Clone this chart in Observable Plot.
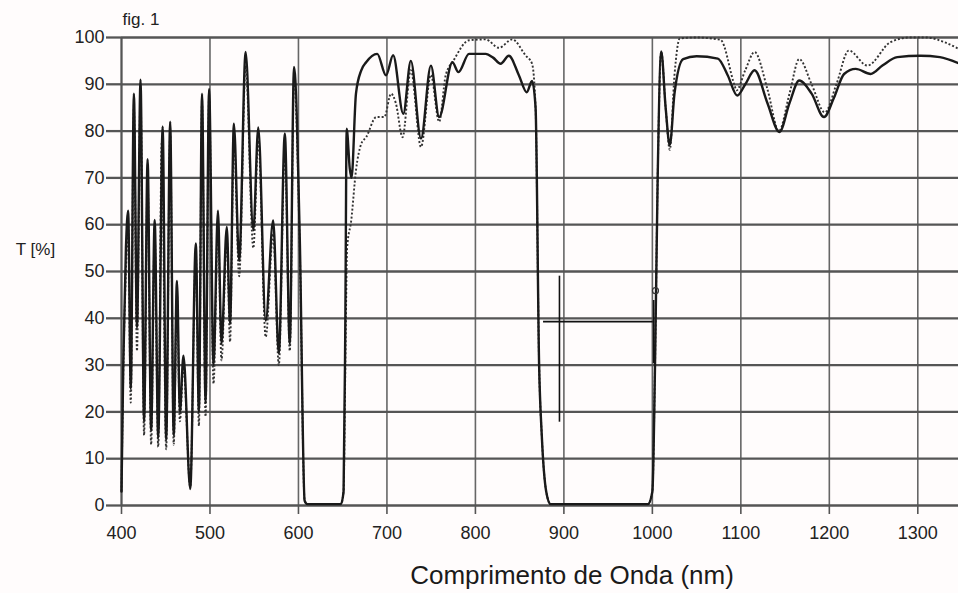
<!DOCTYPE html>
<html>
<head>
<meta charset="utf-8">
<script src="https://cdn.jsdelivr.net/npm/d3@7"></script>
<script src="https://cdn.jsdelivr.net/npm/@observablehq/plot@0.6"></script>
<style>
  html, body { margin: 0; padding: 0; background: #fffcfc; }
  #chart { width: 958px; height: 593px; }
</style>
</head>
<body>
<div id="chart"></div>
<script>
// ---- Data ----
const xTicks = [400, 500, 600, 700, 800, 900, 1000, 1100, 1200, 1300];
const yTicks = [0, 10, 20, 30, 40, 50, 60, 70, 80, 90, 100];

const titleText = "fig. 1";
const yLabelText = "T [%]";
const xLabelText = "Comprimento de Onda (nm)";

// solid curve
const solidNm = [400, 402, 405, 407.5, 410.5, 414, 417.5, 421.5, 425.5, 429.5, 433.5, 437.5, 441.5, 446.5, 450.5, 455, 459, 462.7, 466, 470, 477.7, 484, 487.5, 491, 495, 499, 504, 509, 513, 519, 522.7, 527, 533, 540.3, 549, 554.6, 563, 571.4, 577.8, 584.6, 590.2, 595, 601.5, 607, 610, 648, 651, 653, 654.5, 658, 660, 665, 671, 676.5, 689, 699, 707, 718.5, 727, 738.5, 749.7, 759, 774, 780.8, 792.8, 811.6, 820, 828.5, 837.8, 849, 858, 864, 868, 872, 875, 880, 885, 995, 1000, 1003, 1006, 1010, 1015, 1019.7, 1025, 1034.8, 1050, 1074, 1085, 1096, 1105, 1115.5, 1130, 1143.6, 1155, 1166, 1180, 1194, 1205, 1216.7, 1229.8, 1246.7, 1260, 1276.8, 1303, 1325, 1346];
const solidT  = [3, 30, 55, 63, 25, 88, 38, 91, 18, 74, 16, 61, 14.5, 81, 14, 82, 15, 48, 20, 32, 3.5, 56, 20, 88, 22, 89, 30, 63, 34.6, 59.5, 38.9, 81.6, 52.3, 96.9, 58.8, 80.8, 39.5, 60.9, 32.5, 79.5, 34.6, 93.7, 57, 1, 0.3, 0.3, 3, 40, 80.5, 72, 70, 88, 93, 94.7, 96.5, 91.9, 96.2, 83.7, 95, 78.4, 94, 83, 94.7, 92.6, 96.5, 96.5, 95.7, 94.4, 96.1, 92, 88.3, 90.7, 85, 30, 15, 3, 0.3, 0.3, 3, 30, 70, 97, 85, 77, 88, 95.4, 96, 95.5, 92, 87.6, 90, 93, 86, 79.8, 86, 90.8, 88, 83, 87, 92.2, 93.3, 92.2, 94, 95.8, 96.1, 95.8, 94.5];

// dotted curve
const dottedNm = [400, 402, 405, 407.5, 410.5, 414, 417.5, 421.5, 425.5, 429.5, 433.5, 437.5, 441.5, 445.5, 450.5, 455, 459, 462.7, 466, 470, 477.7, 484, 487.5, 491, 495, 499, 504, 509, 513, 519, 522.7, 527, 533, 540.3, 549, 554.6, 563, 571.4, 577.8, 584.6, 590.2, 595, 601.5, 607, 610, 648, 651, 653, 655, 659.7, 665, 671, 676.5, 688, 697, 704.7, 710, 717.7, 727, 738.5, 749.7, 759, 766.5, 775, 792.8, 811.6, 826.6, 841.6, 856.6, 864, 868, 872, 875, 880, 885, 995, 1000, 1003, 1006, 1010, 1015, 1019.7, 1025, 1031, 1050, 1077, 1093, 1095, 1105, 1115.5, 1130, 1143, 1155, 1166, 1180, 1195, 1208, 1222, 1243, 1269, 1291, 1310, 1330, 1346];
const dottedT  = [3, 28, 50, 60, 22, 85, 33, 88, 15, 70, 13, 58, 12.5, 77.6, 12, 79, 13, 45, 18, 30, 4, 54, 17, 86, 19, 87, 26, 60, 31, 57, 35, 79, 49, 94, 55, 78, 36, 58, 30, 76, 33, 91, 55, 1, 0.3, 0.3, 3, 30, 55, 61, 71.6, 77.3, 78.7, 83, 83, 88, 86, 78.7, 93, 76.6, 92, 82, 92, 95, 99.4, 99.6, 97.8, 99.6, 96.2, 94.4, 85, 30, 15, 3, 0.3, 0.3, 3, 30, 70, 97, 85, 76, 92, 99.8, 100, 99.5, 89.7, 88.7, 93, 96.9, 89, 80, 88, 95.4, 90, 84, 90, 97.2, 94, 99, 100, 100, 99, 97.6];

// crosshair marks printed on the scan
const crossH = [{x1: 877, x2: 1001, y: 39.3}];
const crossV = [{x: 895, y1: 17.8, y2: 49}, {x: 1001.5, y1: 30.3, y2: 43.8}];
const crossDot = [{x: 1003.5, y: 45.9}];

const solid = solidNm.map((x, i) => ({x, y: solidT[i]}));
const dotted = dottedNm.map((x, i) => ({x, y: dottedT[i]}));

const chart = Plot.plot({
  width: 958,
  height: 593,
  marginLeft: 121,
  marginRight: 0,
  marginTop: 37,
  marginBottom: 88,
  style: {fontFamily: "'Liberation Sans', Arial, sans-serif", fontSize: "18px", color: "#222", background: "#fffcfc", overflow: "visible"},
  x: {domain: [400, 1346], label: null},
  y: {domain: [0, 100], label: null},
  marks: [
    Plot.gridX(xTicks, {stroke: "#666", strokeOpacity: 1, strokeWidth: 1.6}),
    Plot.gridY(yTicks, {stroke: "#555", strokeOpacity: 1, strokeWidth: 2.3}),
    Plot.ruleX([400], {stroke: "#555", strokeWidth: 2}),
    Plot.axisX(xTicks, {tickSize: 9, tickPadding: 12, tickFormat: d => String(d), stroke: "#555", strokeWidth: 1.6, fontSize: 18, fill: "#222", label: null}),
    Plot.axisY(yTicks, {tickSize: 15, tickPadding: 2, tickFormat: d => String(d), stroke: "#555", strokeWidth: 2.3, fontSize: 18, fill: "#222", label: null}),
    Plot.line(dotted, {x: "x", y: "y", curve: "monotone-x", stroke: "#333", strokeWidth: 1.9, strokeDasharray: "2,2", strokeLinecap: "butt"}),
    Plot.line(solid, {x: "x", y: "y", curve: "monotone-x", stroke: "#1a1a1a", strokeWidth: 2.4}),
    Plot.ruleY(crossH, {y: "y", x1: "x1", x2: "x2", stroke: "#111", strokeWidth: 1.6}),
    Plot.ruleX(crossV, {x: "x", y1: "y1", y2: "y2", stroke: "#111", strokeWidth: 1.6}),
    Plot.dot(crossDot, {x: "x", y: "y", r: 3, stroke: "#333", strokeWidth: 1.2}),
    Plot.text([titleText], {frameAnchor: "top-left", textAnchor: "start", lineAnchor: "bottom", dx: 1, dy: -13, fontSize: 17, fill: "#222"}),
    Plot.text([yLabelText], {frameAnchor: "left", textAnchor: "middle", dx: -86, dy: -22, fontSize: 17, fill: "#222"}),
    Plot.text([xLabelText], {frameAnchor: "bottom", textAnchor: "middle", lineAnchor: "middle", dx: 32, dy: 70, fontSize: 26, fill: "#1a1a1a"})
  ]
});

document.getElementById("chart").appendChild(chart);
</script>
</body>
</html>
